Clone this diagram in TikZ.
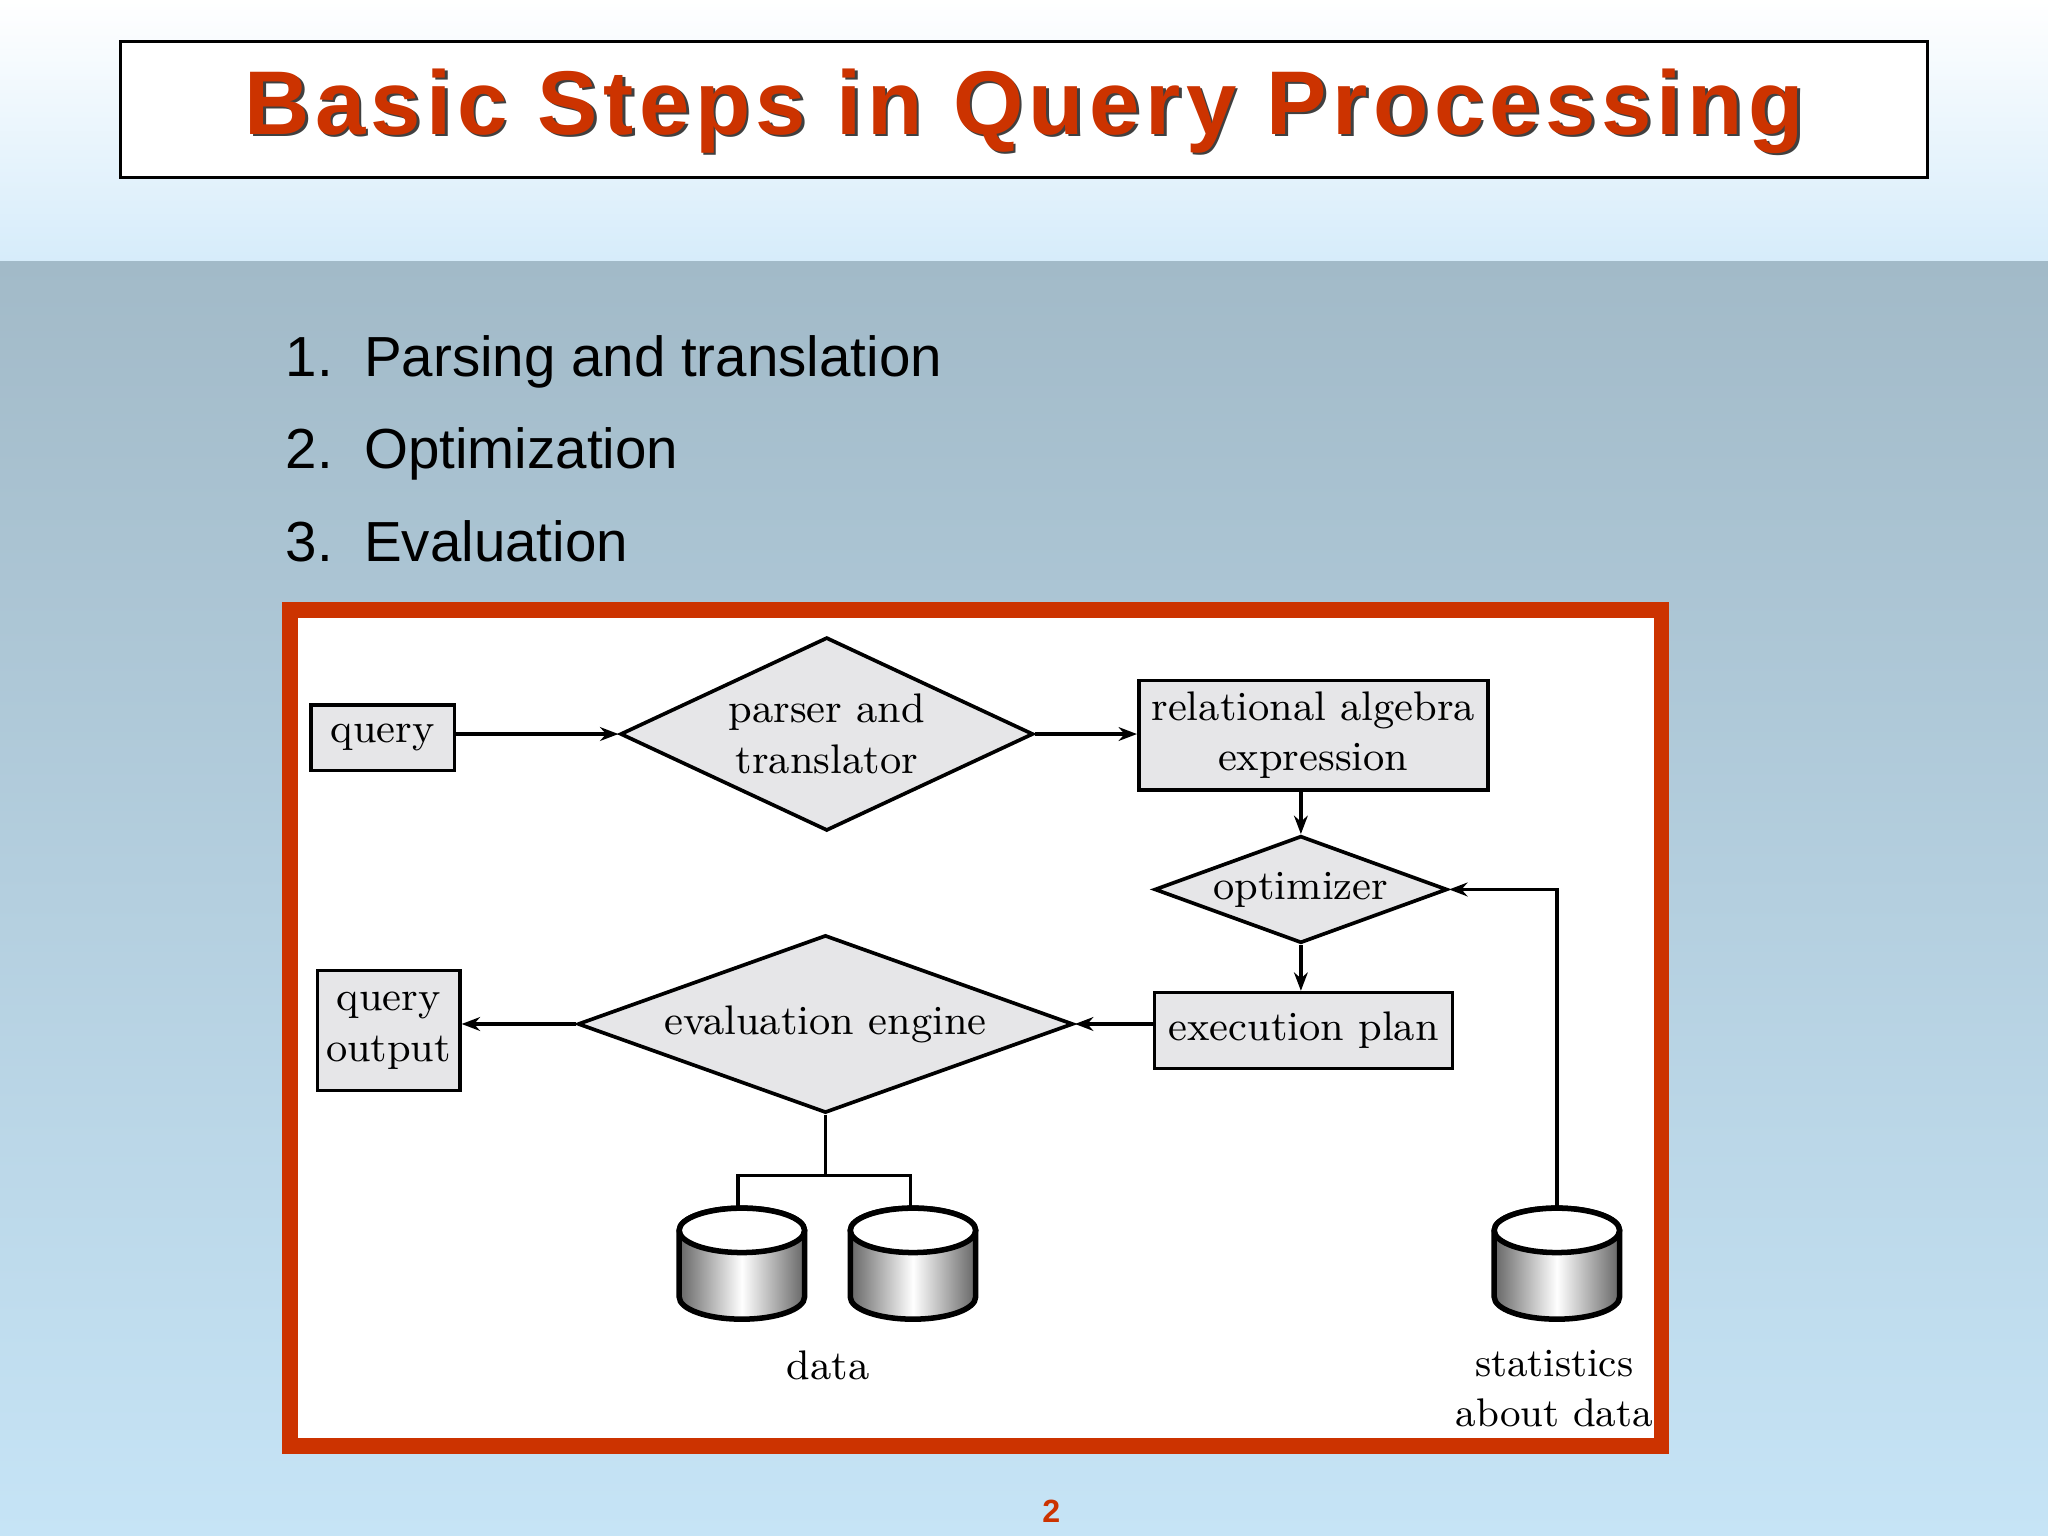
\documentclass[tikz,border=0pt]{standalone}
\usepackage{fontspec}
\newfontfamily\sansf{Liberation Sans}
\usetikzlibrary{shapes.geometric,arrows.meta,shadows}
\definecolor{ttl}{HTML}{CC3300}
\definecolor{boxg}{HTML}{E6E6E8}
\newcommand{\mycyl}[2]{% center x, top y (px)
 \path[left color=gray!80!black,right color=gray!80!black,middle color=white,draw=black,line width=1.2pt]
  (#1-48,-#2-17) -- (#1-48,-#2-68) arc[start angle=180,end angle=360,x radius=48,y radius=17] -- (#1+48,-#2-17) arc[start angle=0,end angle=180,x radius=48,y radius=17]; 
 \draw[fill=white,line width=1.2pt] (#1,-#2-17) ellipse[x radius=48,y radius=17];}
\begin{document}
\begin{tikzpicture}[x=0.01cm,y=0.01cm,
  box/.style={draw,fill=boxg,line width=0.8pt,inner sep=0pt,font=\fontsize{9}{11}\selectfont,align=center},
  dia/.style={draw,fill=boxg,diamond,line width=0.8pt,inner sep=0pt,font=\fontsize{9}{11}\selectfont,align=center},
  arr/.style={-{Stealth[length=4pt,width=3pt]},line width=0.8pt},
  ln/.style={line width=0.8pt},
  bul/.style={anchor=base west,inner sep=0pt,font=\sansf\fontsize{12.3}{15}\selectfont}]
\useasboundingbox (0,0) rectangle (1568,-1176);
\shade[top color=white,bottom color={rgb,255:red,214;green,236;blue,250}] (0,0) rectangle (1568,-200);
\shade[top color={rgb,255:red,162;green,186;blue,200},bottom color={rgb,255:red,198;green,228;blue,246}] (0,-200) rectangle (1568,-1176);
\draw[fill=white,line width=0.6pt] (92,-32) rectangle (1476,-136);
\node (title) at (784,-86) {\sansf\bfseries\fontsize{19.7}{22}\selectfont\addfontfeature{LetterSpace=6}%
 \makebox[0pt]{\raisebox{-0.6pt}{\hspace*{1.2pt}\color{black!75}Basic Steps in Query Processing}}\makebox[0pt]{\color{ttl}Basic Steps in Query Processing}};
\node[bul] (s1) at (218,-288) {1.\ \ Parsing and translation};
\node[bul] (s2) at (218,-359) {2.\ \ Optimization};
\node[bul] (s3) at (218,-430) {3.\ \ Evaluation};
\draw[ttl,fill=white,line width=3.4pt] (222,-467) rectangle (1272,-1107);
\node[box,minimum width=1.10cm,minimum height=0.50cm] (q) at (293,-565) {query};
\node[dia,aspect=2.135,minimum width=3.16cm,minimum height=1.48cm] (p) at (633,-562) {parser and\\translator};
\node[box,minimum width=2.67cm,minimum height=0.84cm] (r) at (1005.5,-563) {relational algebra\\expression};
\node[dia,aspect=2.73,minimum width=2.24cm,minimum height=0.82cm] (o) at (996,-681) {optimizer};
\node[box,minimum width=2.28cm,minimum height=0.58cm] (e) at (998,-789) {execution plan};
\node[dia,aspect=2.79,minimum width=3.79cm,minimum height=1.36cm] (ev) at (632,-784) {evaluation engine};
\node[box,minimum width=1.09cm,minimum height=0.92cm] (qo) at (297.5,-789) {query\\output};
\mycyl{568}{925}\mycyl{699}{925}\mycyl{1192}{925}
\coordinate (d1) at (565,-925); \coordinate (d2) at (697,-925); \coordinate (st) at (1192,-925);
\node[font=\fontsize{9}{11}\selectfont] (dl) at (634,-1045) {data};
\node[font=\fontsize{8.7}{11}\selectfont,align=center] (sl) at (1190,-1063) {statistics\\about data};
\draw[arr] (q.east|-p) -- (p.west);
\draw[arr] (p.east) -- (r.west|-p);
\draw[arr] (r.south-|o) -- (o.north);
\draw[arr] (o.south) -- (e.north-|o);
\draw[arr] (e.west|-ev) -- (ev.east);
\draw[arr] (ev.west) -- (qo.east|-ev);
\draw[arr] (st) |- (o.east);
\draw[ln] (ev.south) -- (632,-900) coordinate (j);
\draw[ln] (d1) |- (j) -| (d2);
\node[font=\sansf\bfseries\fontsize{7}{8}\selectfont,text=ttl] (pg) at (805,-1157) {2};
\end{tikzpicture}
\end{document}
